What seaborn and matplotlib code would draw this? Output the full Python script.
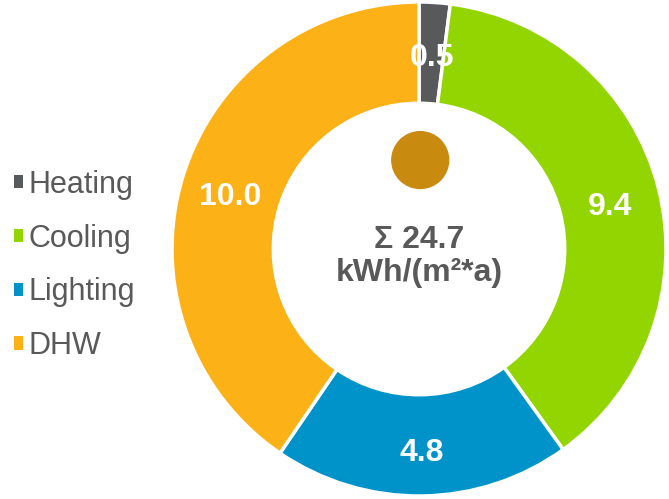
import matplotlib
matplotlib.use("Agg")
import matplotlib.pyplot as plt
import matplotlib.transforms as mtransforms
import seaborn as sns
import numpy as np

# data (kWh/(m²*a))
categories = ["Heating", "Cooling", "Lighting", "DHW"]
values = [0.5, 9.4, 4.8, 10.0]
colors = ["#58595B", "#93D500", "#0093C9", "#FCB216"]

sns.set_theme(style="white")
plt.rcParams['font.family'] = ['Liberation Sans', 'DejaVu Sans']
grey = "#595959"

fig = plt.figure(figsize=(6.69, 4.99), dpi=100)
# square axes holding the ring, placed to the right
ax = fig.add_axes([172 / 669, 3 / 499, 494 / 669, 494 / 499])

total = sum(values)
wedges, texts, autotexts = ax.pie(
    values, colors=sns.color_palette(colors), startangle=90, counterclock=False,
    radius=1, autopct=lambda p: f"{p * total / 100:.1f}", pctdistance=0.8,
    wedgeprops=dict(width=0.41, edgecolor="white", linewidth=2.5),
    textprops=dict(color="white", fontsize=23, fontweight="bold"))
for t in autotexts:
    t.set_va("center_baseline")
    # nudge value labels a few pixels down
    t.set_transform(mtransforms.offset_copy(t.get_transform(), fig, y=-3, units="dots"))
ax.set_xlim(-1, 1)
ax.set_ylim(-1, 1)
ax.set_aspect("equal")
ax.axis("off")

# small decorative dot above the total
ax.add_patch(plt.Circle((0.005, 0.36), 0.115, color="#C98A10", zorder=3))

ax.text(0, -0.03, f"Σ {total:.1f}\nkWh/(m²*a)", ha="center", va="center",
        fontsize=23, fontweight="bold", color=grey, linespacing=1.15)

leg = fig.legend(wedges, categories, loc="center left", bbox_to_anchor=(0.002, 0.468),
                 frameon=False, fontsize=22, handlelength=0.3, handleheight=0.3,
                 handletextpad=0.2, labelspacing=0.78, borderaxespad=0)
for t in leg.get_texts():
    t.set_color(grey)
for h in leg.legend_handles:
    h.set_edgecolor("none")

fig.savefig("out.png", dpi=100)
